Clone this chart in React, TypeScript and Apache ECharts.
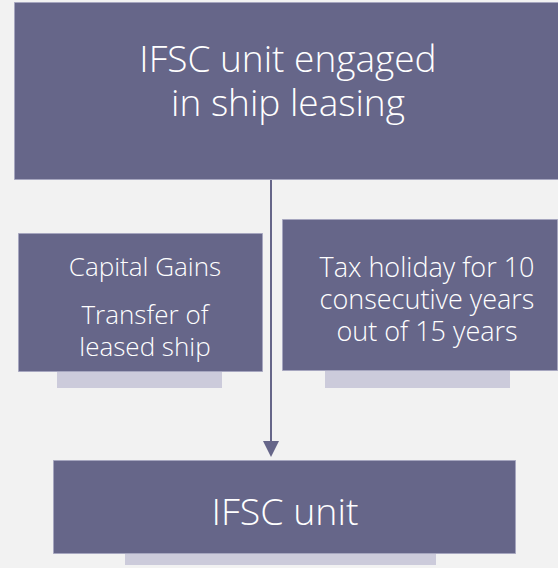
import React, { useEffect, useRef } from "react";
import * as echarts from "echarts";

const topLines = ["IFSC unit engaged", "in ship leasing"];
const leftTitle = ["Capital Gains"];
const leftLines = ["Transfer of", "leased ship"];
const rightLines = ["Tax holiday for 10", "consecutive years", "out of 15 years"];
const bottomLines = ["IFSC unit"];

const BOX = "#666689";
const EDGE = "#a6a6bf";
const SHADOW = "#cccbdb";
const BG = "#f2f2f2";
const FONT = "'Open Sans', 'Noto Sans', sans-serif";

function textEl(lines: string[], cx: number, cy: number, size: number, lh: number) {
  return {
    type: "text",
    z: 10,
    style: {
      text: lines.join("\n"),
      x: cx,
      y: cy,
      fill: "#ffffff",
      fontSize: size,
      fontFamily: FONT,
      fontWeight: 300,
      lineHeight: lh,
      align: "center",
      verticalAlign: "middle",
    },
  };
}

function box(x: number, y: number, w: number, h: number) {
  return {
    type: "rect",
    z: 5,
    shape: { x: x + 0.5, y: y + 0.5, width: w - 1, height: h - 1 },
    style: { fill: BOX, stroke: EDGE, lineWidth: 1 },
  };
}

function shadow(x: number, y: number, w: number, h: number) {
  return {
    type: "rect",
    z: 1,
    shape: { x, y, width: w, height: h },
    style: { fill: SHADOW },
  };
}

export default function App() {
  const ref = useRef<HTMLDivElement>(null);
  useEffect(() => {
    if (!ref.current) return;
    const chart = echarts.init(ref.current, undefined, { renderer: "svg" });
    const elements: any[] = [
      shadow(57, 370, 165, 18),
      shadow(325, 369, 185, 19),
      shadow(125, 552, 311, 13),
      box(14, 2, 545, 178),
      box(18, 233, 245, 139),
      box(282, 219, 276, 152),
      box(53, 460, 463, 94),
      {
        type: "line",
        z: 3,
        shape: { x1: 271, y1: 180, x2: 271, y2: 445 },
        style: { stroke: BOX, lineWidth: 2 },
      },
      {
        type: "polygon",
        z: 3,
        shape: { points: [[263, 441], [279, 441], [271, 457]] },
        style: { fill: BOX },
      },
      textEl(topLines, 288, 79, 37, 44),
      textEl(leftTitle, 145, 266, 26, 32),
      textEl(leftLines, 145, 330, 26, 32),
      textEl(rightLines, 427, 298, 27, 32),
      textEl(bottomLines, 285, 510, 37.5, 40),
    ];
    chart.setOption({
      animation: false,
      backgroundColor: BG,
      graphic: { elements },
    });
    return () => chart.dispose();
  }, []);
  return (
    <div
      ref={ref}
      style={{ position: "absolute", left: 0, top: 0, width: 558, height: 568 }}
    />
  );
}
